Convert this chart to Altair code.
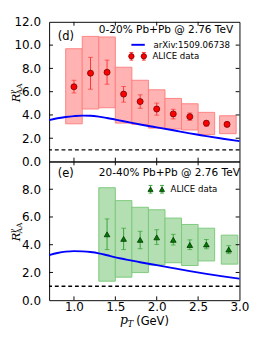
import altair as alt
import pandas as pd

# ---------------- data ----------------
X_MIN, X_MAX = 0.7, 3.0
x_ticks = [1.0, 1.5, 2.0, 2.5]

# Panel (d): 0-20% Pb+Pb
d_pt = [1.0, 1.2, 1.4, 1.6, 1.8, 2.0, 2.2, 2.4, 2.6, 2.85]
d_val = [6.42, 7.59, 7.67, 5.79, 5.15, 4.51, 4.09, 3.85, 3.29, 3.19]
d_stat_lo = [5.89, 6.21, 6.64, 5.10, 4.57, 3.98, 3.66, 3.53, 3.03, 3.00]
d_stat_hi = [6.98, 8.95, 8.71, 6.45, 5.73, 5.02, 4.49, 4.17, 3.50, 3.37]
d_bin_lo = [0.9, 1.1, 1.3, 1.5, 1.7, 1.9, 2.1, 2.3, 2.5, 2.76]
d_bin_hi = [1.1, 1.3, 1.5, 1.7, 1.9, 2.1, 2.3, 2.5, 2.7, 2.96]
d_sys_lo = [3.24, 4.51, 4.62, 3.30, 3.19, 2.87, 2.79, 2.71, 2.31, 2.39]
d_sys_hi = [9.69, 10.75, 10.70, 8.10, 6.98, 6.16, 5.42, 4.96, 4.22, 3.93]
d_curve_x = [0.7, 0.8, 0.9, 1.0, 1.1, 1.2, 1.3, 1.4, 1.5, 1.6, 1.7, 1.8, 1.9, 2.0, 2.2, 2.4, 2.5, 2.6, 2.8, 3.0]
d_curve_y = [3.55, 3.72, 3.83, 3.90, 3.94, 3.93, 3.86, 3.74, 3.60, 3.46, 3.32, 3.18, 3.05, 2.93, 2.68, 2.42, 2.30, 2.18, 1.96, 1.75]

# Panel (e): 20-40% Pb+Pb
e_pt = [1.4, 1.6, 1.8, 2.0, 2.2, 2.4, 2.6, 2.87]
e_val = [4.75, 4.42, 4.35, 4.53, 4.35, 3.98, 4.02, 3.65]
e_stat_lo = [3.65, 3.65, 3.71, 4.02, 3.98, 3.65, 3.71, 3.36]
e_stat_hi = [5.86, 5.19, 4.97, 5.08, 4.75, 4.35, 4.38, 3.93]
e_bin_lo = [1.3, 1.5, 1.7, 1.9, 2.1, 2.3, 2.5, 2.78]
e_bin_hi = [1.5, 1.7, 1.9, 2.1, 2.3, 2.5, 2.7, 2.98]
e_sys_lo = [1.37, 1.66, 1.99, 2.54, 2.70, 2.50, 2.83, 2.60]
e_sys_hi = [8.11, 7.18, 6.70, 6.52, 5.92, 5.46, 5.19, 4.69]
e_curve_x = [0.7, 0.8, 0.9, 1.0, 1.1, 1.2, 1.3, 1.4, 1.5, 1.6, 1.7, 1.8, 1.9, 2.0, 2.2, 2.4, 2.6, 2.8, 3.0]
e_curve_y = [3.25, 3.40, 3.50, 3.54, 3.52, 3.47, 3.38, 3.24, 3.09, 2.97, 2.85, 2.74, 2.63, 2.53, 2.31, 2.10, 1.90, 1.72, 1.55]

W = 199
H1, H2 = 146, 145
FONT = "DejaVu Sans"
SERIF = "DejaVu Serif"


def make_panel(pt, val, slo, shi, blo, bhi, sylo, syhi, cx, cy, ymax, yvals,
               H, show_x, box_fill, box_edge, err_col, pt_fill, pt_edge, shape,
               psize, label, title, legend):
    xs = alt.Scale(domain=[X_MIN, X_MAX], nice=False, zero=False)
    ys = alt.Scale(domain=[0, ymax], nice=False, zero=True)
    if show_x:
        xax = alt.Axis(values=[1.0, 1.5, 2.0, 2.5, 3.0], format=".1f", grid=False,
                       domain=False, ticks=False, tickSize=0, labelPadding=1,
                       labelFlush=False, title=None)
    else:
        xax = None
    yax = alt.Axis(values=yvals, format=".1f", grid=False, domain=False,
                   ticks=False, tickSize=0, labelPadding=9, title=None)

    def X(f):
        return alt.X(f, type="quantitative", scale=xs, axis=xax)

    def Y(f):
        return alt.Y(f, type="quantitative", scale=ys, axis=yax)

    pts = pd.DataFrame({"pt": pt, "val": val, "lo": slo, "hi": shi})
    boxes = pd.DataFrame({"blo": blo, "bhi": bhi, "slo": sylo, "shi": syhi})
    curve = pd.DataFrame({"x": cx, "y": cy})
    one = pd.DataFrame({"one": [1.0]})
    xt = pd.DataFrame({"xt": x_ticks})
    yt = pd.DataFrame({"yt": [v for v in yvals if 0 < v < ymax]})
    dummy = pd.DataFrame({"a": [0]})

    layers = []
    layers.append(alt.Chart(boxes).mark_rect(fill=box_fill, stroke=box_edge, strokeWidth=1)
                  .encode(x=X("blo"), x2="bhi", y=Y("slo"), y2="shi"))
    layers.append(alt.Chart(curve).mark_line(color="#0000ff", strokeWidth=2, interpolate="monotone")
                  .encode(x=X("x"), y=Y("y")))
    layers.append(alt.Chart(one).mark_rule(color="black", strokeDash=[4, 3], strokeWidth=1.5)
                  .encode(y=Y("one")))
    layers.append(alt.Chart(pts).mark_rule(color=err_col, strokeWidth=1)
                  .encode(x=X("pt"), y=Y("lo"), y2="hi"))
    for f in ["lo", "hi"]:
        layers.append(alt.Chart(pts).mark_tick(orient="horizontal", size=5, thickness=1, color=err_col)
                      .encode(x=X("pt"), y=Y(f)))
    layers.append(alt.Chart(pts).mark_point(shape=shape, filled=True, fill=pt_fill, stroke=pt_edge,
                                            strokeWidth=0.8, size=psize, opacity=1)
                  .encode(x=X("pt"), y=Y("val")))
    # inward ticks
    layers.append(alt.Chart(xt).mark_rule(color="black", strokeWidth=1)
                  .encode(x=X("xt"), y=alt.value(H - 4), y2=alt.value(H)))
    layers.append(alt.Chart(xt).mark_rule(color="black", strokeWidth=1)
                  .encode(x=X("xt"), y=alt.value(0), y2=alt.value(4)))
    layers.append(alt.Chart(yt).mark_rule(color="black", strokeWidth=1)
                  .encode(y=Y("yt"), x=alt.value(0), x2=alt.value(4)))
    layers.append(alt.Chart(yt).mark_rule(color="black", strokeWidth=1)
                  .encode(y=Y("yt"), x=alt.value(W - 4), x2=alt.value(W)))
    # panel label and title
    layers.append(alt.Chart(dummy).mark_text(align="left", baseline="middle", fontSize=12, font=FONT, color="black")
                  .encode(x=alt.value(label[1]), y=alt.value(label[2]), text=alt.value(label[0])))
    layers.append(alt.Chart(dummy).mark_text(align="left", baseline="middle", fontSize=11, font=FONT, color="black")
                  .encode(x=alt.value(title[1]), y=alt.value(title[2]), text=alt.value(title[0])))
    # legend
    for item in legend:
        kind, x0, x1, yy, txt = item
        if kind == "line":
            layers.append(alt.Chart(dummy).mark_rule(color="#0000ff", strokeWidth=2)
                          .encode(x=alt.value(x0), x2=alt.value(x1), y=alt.value(yy)))
        else:
            for xp in (x0, x1):
                layers.append(alt.Chart(dummy).mark_rule(color=err_col, strokeWidth=1)
                              .encode(x=alt.value(xp), y=alt.value(yy - 4), y2=alt.value(yy + 4)))
                for yc in (yy - 4, yy + 4):
                    layers.append(alt.Chart(dummy).mark_rule(color=err_col, strokeWidth=1)
                                  .encode(x=alt.value(xp - 2), x2=alt.value(xp + 2), y=alt.value(yc)))
                layers.append(alt.Chart(dummy).mark_point(shape=shape, filled=True, fill=pt_fill,
                                                          stroke=pt_edge, strokeWidth=0.8,
                                                          size=psize * 0.8, opacity=1)
                              .encode(x=alt.value(xp), y=alt.value(yy)))
        layers.append(alt.Chart(dummy).mark_text(align="left", baseline="middle", fontSize=9, font=FONT, color="black")
                      .encode(x=alt.value(x1 + 9), y=alt.value(yy), text=alt.value(txt)))
    # y-axis title R^gamma_AA (rotated)
    yR = 0.575 * H
    layers.append(alt.Chart(dummy).mark_text(align="left", baseline="middle", angle=270, fontSize=12,
                                             font=SERIF, fontStyle="italic", color="black")
                  .encode(x=alt.value(-34), y=alt.value(yR), text=alt.value("R")))
    layers.append(alt.Chart(dummy).mark_text(align="left", baseline="middle", angle=270, fontSize=8,
                                             font=SERIF, fontStyle="italic", color="black")
                  .encode(x=alt.value(-38), y=alt.value(yR - 8), text=alt.value("γ")))
    layers.append(alt.Chart(dummy).mark_text(align="left", baseline="middle", angle=270, fontSize=8,
                                             font=SERIF, color="black")
                  .encode(x=alt.value(-30), y=alt.value(yR - 8), text=alt.value("AA")))
    if show_x:
        layers.append(alt.Chart(dummy).mark_text(align="left", baseline="alphabetic", fontSize=13,
                                                 font=SERIF, fontStyle="italic", color="black")
                      .encode(x=alt.value(74), y=alt.value(H + 25), text=alt.value("p")))
        layers.append(alt.Chart(dummy).mark_text(align="left", baseline="alphabetic", fontSize=9,
                                                 font=SERIF, fontStyle="italic", color="black")
                      .encode(x=alt.value(82), y=alt.value(H + 28), text=alt.value("T")))
        layers.append(alt.Chart(dummy).mark_text(align="left", baseline="alphabetic", fontSize=12,
                                                 font=FONT, color="black")
                      .encode(x=alt.value(91), y=alt.value(H + 26), text=alt.value("(GeV)")))
    return alt.layer(*layers).properties(width=W, height=H)


top = make_panel(d_pt, d_val, d_stat_lo, d_stat_hi, d_bin_lo, d_bin_hi, d_sys_lo, d_sys_hi,
                 d_curve_x, d_curve_y, 12, [0, 2, 4, 6, 8, 10, 12], H1, False,
                 "#ffb3b3", "#ff8080", "#ff3030", "#ff0000", "#700000", "circle", 40,
                 ("(d)", 9, 15), ("0-20% Pb+Pb @ 2.76 TeV", 52, 9),
                 [("line", 86, 100, 24, "arXiv:1509.06738"), ("pts", 86, 99, 36, "ALICE data")])

bottom = make_panel(e_pt, e_val, e_stat_lo, e_stat_hi, e_bin_lo, e_bin_hi, e_sys_lo, e_sys_hi,
                    e_curve_x, e_curve_y, 10, [0, 2, 4, 6, 8], H2, True,
                    "#b3dfb3", "#7cc87c", "#33a033", "#007a00", "#003300", "triangle-up", 35,
                    ("(e)", 9, 12), ("20-40% Pb+Pb @ 2.76 TeV", 52, 12),
                    [("pts", 106, 118, 29, "ALICE data")])

chart = (alt.vconcat(top, bottom, spacing=0, bounds="flush")
         .properties(padding=0)
         .configure_view(stroke="black", strokeWidth=1)
         .configure_axis(labelFont=FONT, labelFontSize=12.5, labelColor="black"))

chart.save("out.html", embed_options={"renderer": "svg", "actions": False})
